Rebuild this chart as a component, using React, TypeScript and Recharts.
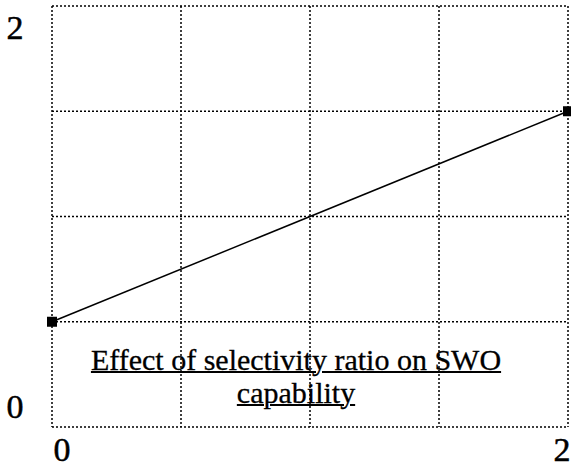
import { LineChart, Line, XAxis, YAxis, CartesianGrid } from "recharts";

const xValues = [0, 2];
const yValues = [0.5, 1.5];
const gridTicks = [0, 0.5, 1, 1.5, 2];
const labelTicks = [0, 2];
const titleLines = ["Effect of selectivity ratio on SWO", "capability"];

const data = xValues.map((x, i) => ({ x, y: yValues[i] }));

const FONT = "'Liberation Serif', 'Times New Roman', serif";

function XTick(props: any) {
  const { x, y, payload } = props;
  if (!labelTicks.includes(payload.value)) return null;
  const dx = payload.value === 0 ? 10 : -6;
  return (
    <text x={x + dx} y={y + 14} textAnchor="middle" dominantBaseline="central" fontFamily={FONT} fontSize={34} fill="#000" stroke="#000" strokeWidth={0.5}>
      {payload.value}
    </text>
  );
}

function YTick(props: any) {
  const { y, payload } = props;
  if (!labelTicks.includes(payload.value)) return null;
  const dy = payload.value === 0 ? -21 : 21;
  return (
    <text x={15} y={y + dy} textAnchor="middle" dominantBaseline="central" fontFamily={FONT} fontSize={34} fill="#000" stroke="#000" strokeWidth={0.5}>
      {payload.value}
    </text>
  );
}

function SquareDot(props: any) {
  const { cx, cy } = props;
  return <rect x={cx - 5} y={cy - 5} width={10} height={10} fill="#000" />;
}

export default function App() {
  return (
    <div style={{ position: "absolute", left: 0, top: 0, width: 571, height: 470, background: "#fff" }}>
      <LineChart width={571} height={470} data={data} margin={{ top: 6, right: 3, left: 0, bottom: 0 }}>
        <CartesianGrid stroke="#000" strokeWidth={1.5} strokeDasharray="2 2" />
        <XAxis
          dataKey="x"
          type="number"
          domain={[0, 2]}
          ticks={gridTicks}
          axisLine={false}
          tickLine={false}
          height={43}
          tick={<XTick />}
          interval={0}
        />
        <YAxis
          type="number"
          domain={[0, 2]}
          ticks={gridTicks}
          axisLine={false}
          tickLine={false}
          width={52}
          tick={<YTick />}
          interval={0}
        />
        <Line
          dataKey="y"
          type="linear"
          stroke="#000"
          strokeWidth={1.5}
          dot={<SquareDot />}
          activeDot={false}
          isAnimationActive={false}
        />
      </LineChart>
      <div
        style={{
          position: "absolute",
          left: 0,
          width: 592,
          top: 343,
          textAlign: "center",
          fontFamily: FONT,
          fontSize: 30,
          lineHeight: "33px",
          color: "#000",
          textDecoration: "underline",
          textDecorationThickness: 2,
          WebkitTextStroke: "0.3px #000",
          whiteSpace: "nowrap",
        }}
      >
        {titleLines[0]}
        <br />
        {titleLines[1]}
      </div>
    </div>
  );
}
